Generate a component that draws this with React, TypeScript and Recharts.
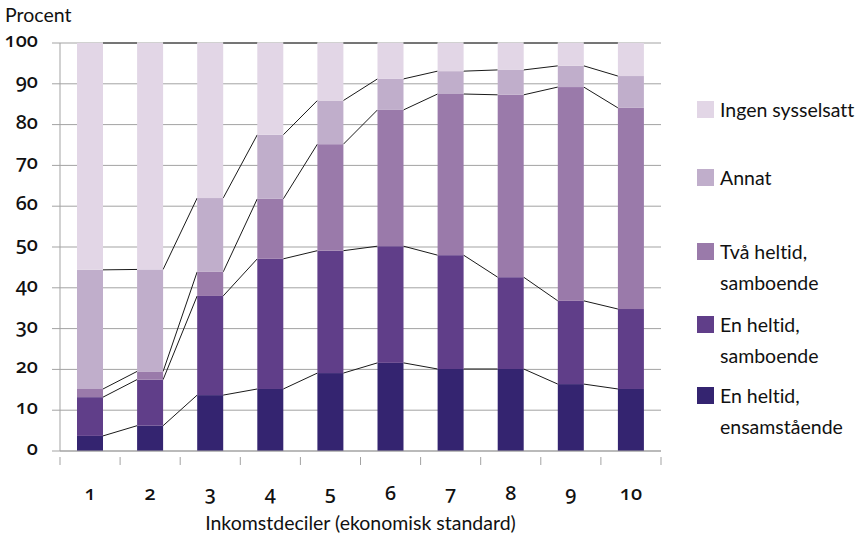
import React from "react";
import { BarChart, Bar, XAxis, YAxis, CartesianGrid } from "recharts";

// inkomstdeciler 1..10
const deciles = ["1", "2", "3", "4", "5", "6", "7", "8", "9", "10"];

// andel hushåll (procent), nedifrån och upp
const enHeltidEnsam = [3.7, 6.2, 13.7, 15.2, 19.1, 21.6, 20.1, 20.1, 16.4, 15.2];
const enHeltidSambo = [9.5, 11.3, 24.3, 31.9, 30.0, 28.6, 27.9, 22.5, 20.4, 19.6];
const tvaHeltidSambo = [2.0, 2.0, 5.9, 14.7, 26.1, 33.4, 39.5, 44.7, 52.4, 49.3];
const annat = [29.2, 25.0, 18.1, 15.7, 10.7, 7.6, 5.6, 6.1, 5.2, 7.8];
const ingenSysselsatt = [55.6, 55.5, 38.0, 22.5, 14.1, 8.8, 6.9, 6.6, 5.6, 8.1];

const yTicks = [0, 10, 20, 30, 40, 50, 60, 70, 80, 90, 100];

const series = [
  { key: "ensam", name: "En heltid, ensamstående", color: "#342470", values: enHeltidEnsam },
  { key: "sambo", name: "En heltid, samboende", color: "#603E89", values: enHeltidSambo },
  { key: "tva", name: "Två heltid, samboende", color: "#9A7AAA", values: tvaHeltidSambo },
  { key: "annat", name: "Annat", color: "#C0AECB", values: annat },
  { key: "ingen", name: "Ingen sysselsatt", color: "#E2D6E6", values: ingenSysselsatt },
];

const rows = deciles.map((d, i) => {
  const row: any = { decil: d };
  series.forEach((s) => (row[s.key] = s.values[i]));
  return row;
});

const cumTo = (row: any, idx: number) => {
  let sum = 0;
  for (let j = 0; j <= idx; j++) sum += row[series[j].key];
  return sum;
};

const FONT = "Lato, 'Open Sans', sans-serif";
const NUMFONT = "'Noto Sans', Lato, sans-serif";
const PLOT_LEFT = 60;
const GRAY = "#a3a3a3";
const noLig = { fontVariantLigatures: "none" as const };
const oldNums: any = { fontVariantNumeric: "oldstyle-nums", fontFeatureSettings: "'onum' 1" };

// bar segment plus the series line to the next decile
const makeShape = (idx: number) => (props: any) => {
  const { x, y, width, height, index, fill } = props;
  const row = rows[index];
  const hi = cumTo(row, idx);
  const lo = hi - row[series[idx].key];
  let line = null;
  if (index < rows.length - 1 && hi > lo && height > 0) {
    const k = height / (hi - lo);
    const band = (x + width / 2 - PLOT_LEFT) / (index + 0.5);
    const nextHi = cumTo(rows[index + 1], idx);
    const y2 = y + (hi - nextHi) * k;
    line = (
      <line x1={x + width} y1={y} x2={x + band} y2={y2} stroke="#1a1a1a" strokeWidth={1} />
    );
  }
  return (
    <g>
      <rect x={x} y={y} width={width} height={height} fill={fill} />
      {line}
    </g>
  );
};

const XTick = (props: any) => {
  const { x, y, payload, index } = props;
  const half = payload.offset || 30;
  return (
    <g>
      <line x1={x - half} y1={y - 2} x2={x - half} y2={y + 6} stroke={GRAY} />
      {index === deciles.length - 1 && (
        <line x1={x + half} y1={y - 2} x2={x + half} y2={y + 6} stroke={GRAY} />
      )}
      <text
        x={x}
        y={y + 41}
        textAnchor="middle"
        fontFamily={NUMFONT}
        fontSize={20}
        fontWeight={500}
        fill="#111"
        style={oldNums}
      >
        {payload.value}
      </text>
    </g>
  );
};

const YTick = (props: any) => {
  const { x, y, payload } = props;
  return (
    <text
      x={x}
      y={y + 4}
      textAnchor="end"
      fontFamily={NUMFONT}
      fontSize={20}
      fontWeight={500}
      fill="#111"
      style={oldNums}
    >
      {payload.value}
    </text>
  );
};

const legendItems = [
  { name: ["Ingen sysselsatt"], color: "#E2D6E6", top: 101 },
  { name: ["Annat"], color: "#C0AECB", top: 169 },
  { name: ["Två heltid,", "samboende"], color: "#9A7AAA", top: 243 },
  { name: ["En heltid,", "samboende"], color: "#603E89", top: 316 },
  { name: ["En heltid,", "ensamstående"], color: "#342470", top: 387 },
];

const ChartLegend = () => (
  <div style={{ position: "absolute", left: 697, top: 0, fontFamily: FONT, ...noLig }}>
    {legendItems.map((it) => (
      <div key={it.name[0]} style={{ position: "absolute", top: it.top, left: 0 }}>
        <div
          style={{ position: "absolute", left: 0, top: 0, width: 17, height: 17, background: it.color }}
        />
        <div
          style={{
            position: "absolute",
            left: 23,
            top: -7,
            fontSize: 19.5,
            lineHeight: "31px",
            color: "#111",
            whiteSpace: "nowrap",
          }}
        >
          {it.name.map((n) => (
            <div key={n}>{n}</div>
          ))}
        </div>
      </div>
    ))}
  </div>
);

export default function App() {
  return (
    <div style={{ position: "relative", width: 859, height: 537, background: "#fff" }}>
      <style>{"body{margin:0}"}</style>
      <div
        style={{
          position: "absolute",
          left: 5,
          top: 3,
          fontFamily: FONT,
          fontSize: 19.5,
          color: "#111",
          ...noLig,
        }}
      >
        Procent
      </div>
      <BarChart
        width={859}
        height={537}
        data={rows}
        margin={{ top: 43, right: 198, left: 0, bottom: 0 }}
        barSize={26}
      >
        <CartesianGrid vertical={false} stroke={GRAY} />
        <XAxis
          dataKey="decil"
          height={86}
          axisLine={{ stroke: GRAY }}
          tickLine={false}
          tick={<XTick />}
          interval={0}
          label={{
            value: "Inkomstdeciler (ekonomisk standard)",
            position: "insideBottom",
            offset: 7,
            fontFamily: FONT,
            fontSize: 19.5,
            fill: "#111",
          }}
        />
        <YAxis
          width={60}
          domain={[0, 100]}
          ticks={yTicks}
          interval={0}
          tickSize={8}
          tickMargin={14}
          axisLine={{ stroke: GRAY }}
          tickLine={{ stroke: GRAY }}
          tick={<YTick />}
        />
        {series.map((s, i) => (
          <Bar
            key={s.key}
            dataKey={s.key}
            name={s.name}
            stackId="a"
            fill={s.color}
            shape={makeShape(i)}
            isAnimationActive={false}
          />
        ))}
      </BarChart>
      <ChartLegend />
    </div>
  );
}
